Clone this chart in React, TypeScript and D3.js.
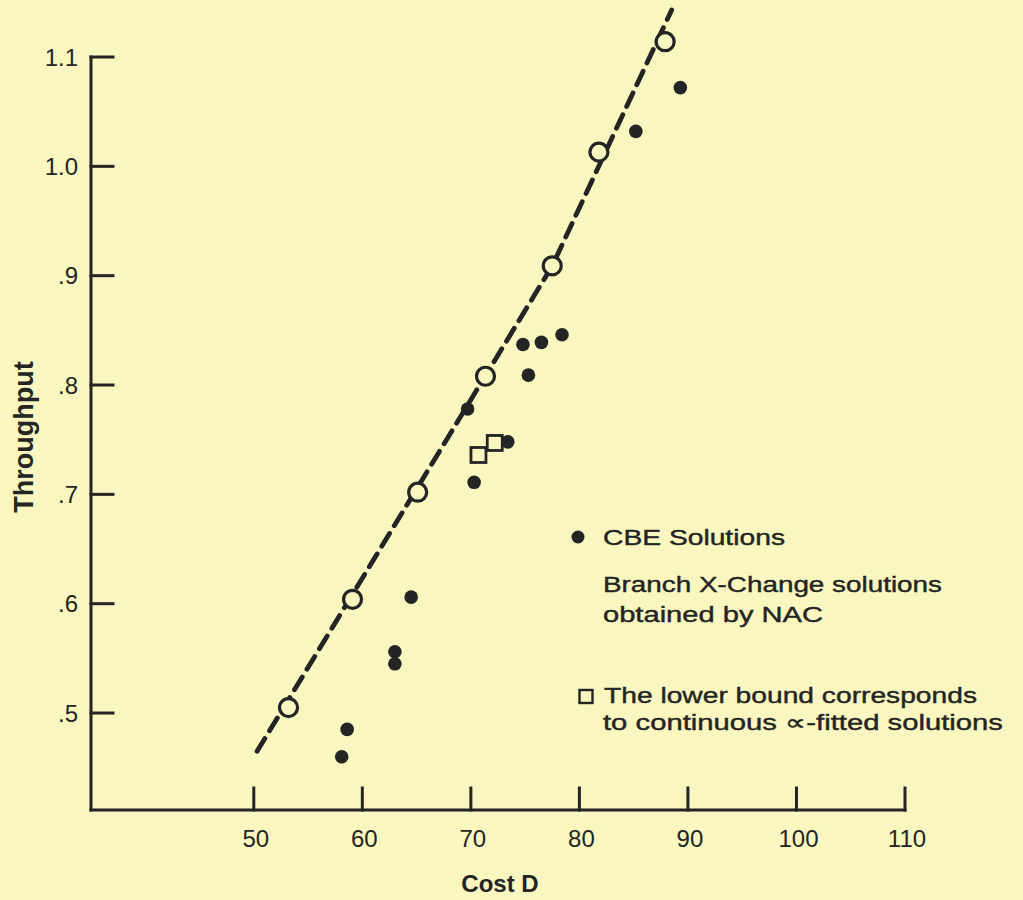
import React from "react";
import * as d3 from "d3";

// ---- data ----
const xTicks = [50, 60, 70, 80, 90, 100, 110];
const yTicks = [0.5, 0.6, 0.7, 0.8, 0.9, 1.0, 1.1];
const yTickLabels = [".5", ".6", ".7", ".8", ".9", "1.0", "1.1"];

// Branch X-Change solutions obtained by NAC (open circles)
const nacX = [53.2, 59.1, 65.1, 71.35, 77.5, 81.8, 87.9];
const nacY = [0.505, 0.604, 0.702, 0.808, 0.909, 1.013, 1.114];

// CBE solutions (filled dots)
const cbeX = [58.1, 58.6, 63.0, 63.0, 64.5, 69.7, 70.3, 73.4, 74.8, 75.3, 76.5, 78.4, 85.2, 89.3];
const cbeY = [0.46, 0.485, 0.556, 0.545, 0.606, 0.778, 0.711, 0.748, 0.837, 0.809, 0.839, 0.846, 1.032, 1.072];

// Lower bound, continuous alpha-fitted solutions (squares)
const boundX = [70.7, 72.2];
const boundY = [0.736, 0.747];

// dashed fitted line
const fitX = [50.3, 77.5, 88.5];
const fitY = [0.465, 0.909, 1.143];

const legendLines = [
  "CBE Solutions",
  "Branch X-Change solutions",
  "obtained by NAC",
  "The lower bound corresponds",
  "to continuous \u221D-fitted solutions",
];

const BG = "#f9f7bf";
const INK = "#242424";

export default function App() {
  const x = d3.scaleLinear().domain([35, 110]).range([91, 905]);
  const y = d3.scaleLinear().domain([0.4113, 1.1]).range([810, 57]);

  const fitPts: [number, number][] = fitX.map((v, i) => [v, fitY[i]]);
  const line = d3
    .line<[number, number]>()
    .x((d) => x(d[0]))
    .y((d) => y(d[1]));

  const tickFont = "'Liberation Sans', Arial, sans-serif";
  const legendFont = "'Liberation Sans', Arial, sans-serif";

  return (
    <svg
      width={1023}
      height={900}
      style={{ position: "absolute", left: 0, top: 0, display: "block" }}
    >
      <rect x={0} y={0} width={1023} height={900} fill={BG} />

      {/* axes */}
      <g stroke={INK} strokeWidth={3} fill="none" strokeLinecap="square">
        <line x1={x(35)} y1={y(1.1)} x2={x(35)} y2={y(0.4113)} />
        <line x1={x(35)} y1={y(0.4113)} x2={x(110)} y2={y(0.4113)} />
        {yTicks.map((t) => (
          <line key={"yt" + t} x1={x(35)} y1={y(t)} x2={x(35) + 22} y2={y(t)} />
        ))}
        {xTicks.map((t) => (
          <line key={"xt" + t} x1={x(t)} y1={y(0.4113)} x2={x(t)} y2={y(0.4113) - 22} />
        ))}
      </g>

      {/* tick labels */}
      <g fill={INK} fontFamily={tickFont} fontSize={24}>
        {yTicks.map((t, i) => (
          <text key={"yl" + t} x={x(35) - 13} y={y(t) + 8.5} textAnchor="end">
            {yTickLabels[i]}
          </text>
        ))}
        {xTicks.map((t) => (
          <text key={"xl" + t} x={x(t) + 2} y={847} textAnchor="middle">
            {t}
          </text>
        ))}
      </g>

      {/* axis titles */}
      <text
        x={500}
        y={892}
        textAnchor="middle"
        fontFamily={tickFont}
        fontWeight="bold"
        fontSize={24}
        fill={INK}
      >
        Cost D
      </text>
      <text
        transform="translate(33,437) rotate(-90)"
        textAnchor="middle"
        fontFamily={tickFont}
        fontWeight="bold"
        fontSize={27}
        fill={INK}
      >
        Throughput
      </text>

      {/* CBE dots */}
      <g fill={INK}>
        {cbeX.map((v, i) => (
          <circle key={"c" + i} cx={x(v)} cy={y(cbeY[i])} r={6.8} />
        ))}
      </g>

      {/* lower bound squares */}
      <g fill="none" stroke={INK} strokeWidth={2.8}>
        {boundX.map((v, i) => (
          <rect key={"s" + i} x={x(v) - 7.5} y={y(boundY[i]) - 7.5} width={15} height={15} />
        ))}
      </g>

      {/* dashed fit line */}
      <path
        d={line(fitPts) || ""}
        fill="none"
        stroke={INK}
        strokeWidth={4.8}
        strokeDasharray="15 9"
        strokeLinecap="round"
      />

      {/* NAC open circles */}
      <g fill={BG} stroke={INK} strokeWidth={3.2}>
        {nacX.map((v, i) => (
          <circle key={"n" + i} cx={x(v)} cy={y(nacY[i])} r={9} />
        ))}
      </g>

      {/* legend */}
      <circle cx={578} cy={537} r={6.5} fill={INK} />
      <rect x={579.5} y={690} width={13} height={13} fill="none" stroke={INK} strokeWidth={2.4} />
      <g fill={INK} stroke={INK} strokeWidth={0.4} fontFamily={legendFont} fontSize={22}>
        <text x={603} y={545} textLength={182} lengthAdjust="spacingAndGlyphs">
          {legendLines[0]}
        </text>
        <text x={603} y={592} textLength={339} lengthAdjust="spacingAndGlyphs">
          {legendLines[1]}
        </text>
        <text x={603} y={622} textLength={220} lengthAdjust="spacingAndGlyphs">
          {legendLines[2]}
        </text>
        <text x={604} y={703} textLength={373} lengthAdjust="spacingAndGlyphs">
          {legendLines[3]}
        </text>
        <text x={603} y={730} textLength={400} lengthAdjust="spacingAndGlyphs">
          {legendLines[4]}
        </text>
      </g>
    </svg>
  );
}
